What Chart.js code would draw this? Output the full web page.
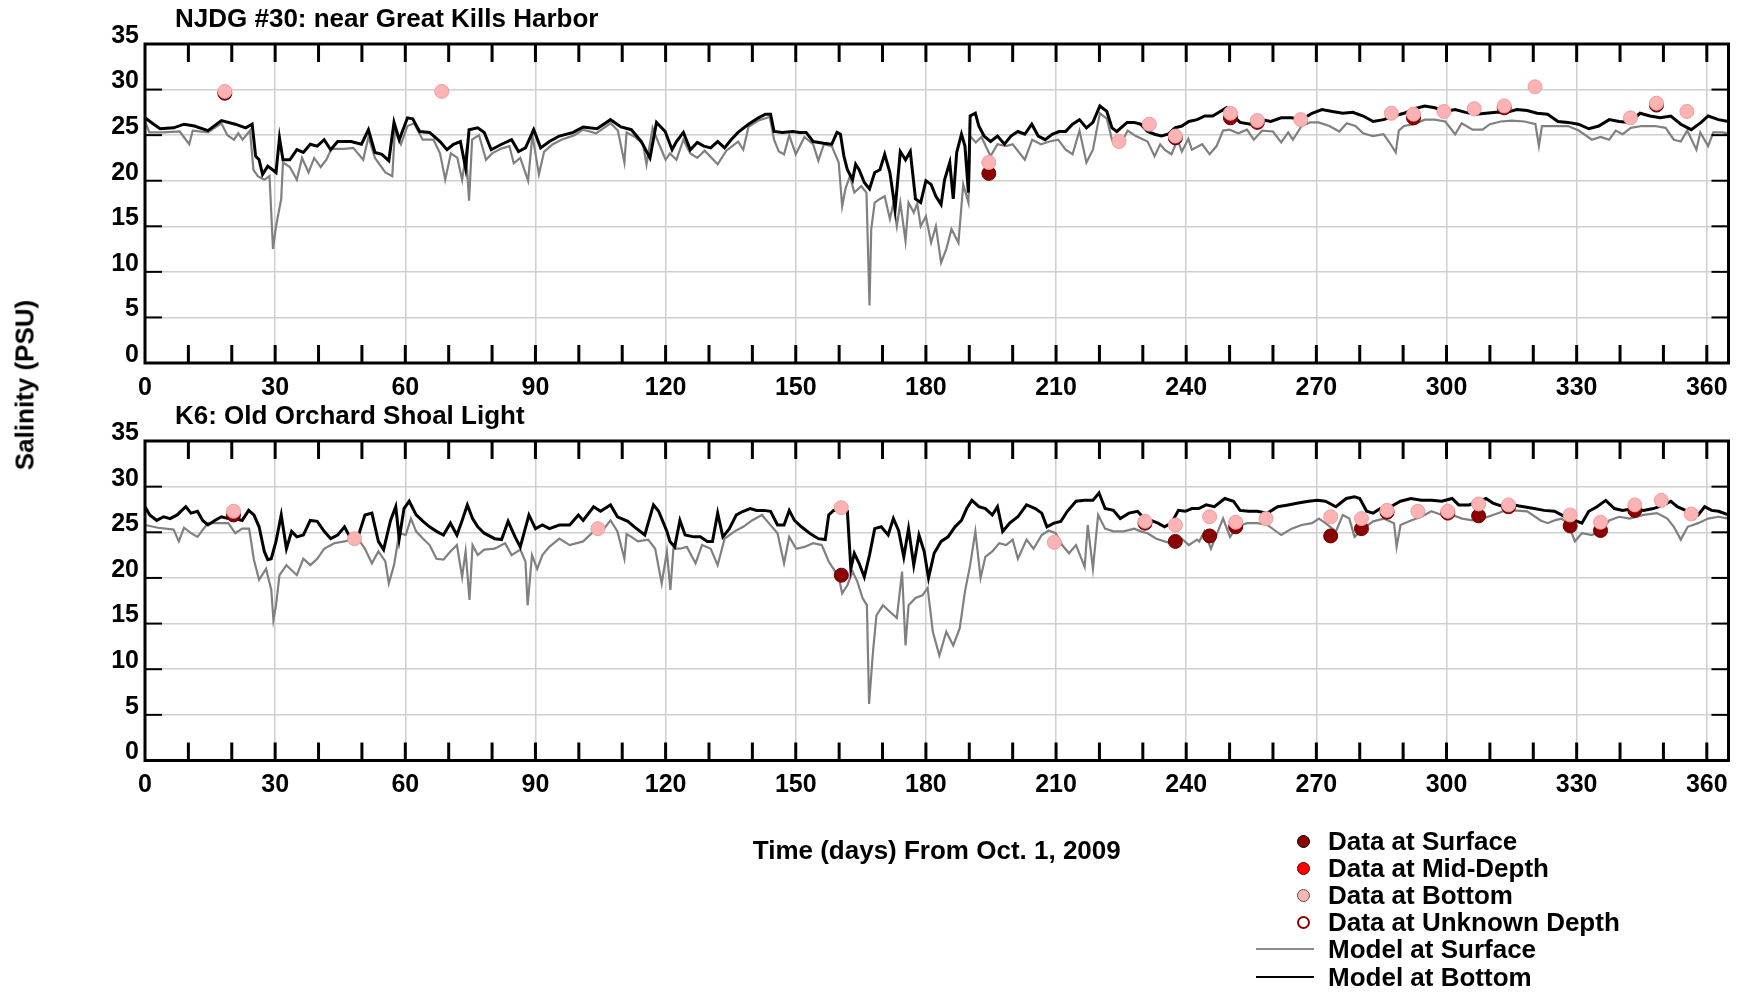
<!DOCTYPE html>
<html>
<head>
<meta charset="utf-8">
<title>Salinity: NJDG #30 and K6</title>
<script src="https://cdn.jsdelivr.net/npm/chart.js@4.4.1/dist/chart.umd.min.js"></script>
<style>
    body { margin: 0; background: #fff; font-family: "Liberation Sans", Arial, sans-serif; }
    #page { position: relative; width: 1743px; height: 992px; overflow: hidden; background: #fff; }
    .panel { position: absolute; left: 0; }
    #yTitle {
        position: absolute; left: 25px; top: 385px;
        transform: translate(-50%, -50%) rotate(-90deg);
        font-weight: bold; font-size: 26px; white-space: nowrap; color: #000;
    }
    #legend { position: absolute; left: 1256px; top: 828px; width: 420px; height: 164px; }
    .leg-row { position: absolute; left: 0; height: 27px; width: 420px; }
    .leg-text { position: absolute; left: 72px; top: 0; line-height: 27px; font-weight: bold; font-size: 26px; color: #000; white-space: nowrap; }
    .leg-dot { position: absolute; left: 41px; top: 7px; width: 13px; height: 13px; border-radius: 50%; box-sizing: border-box; }
    .leg-line { position: absolute; left: 0; top: 12px; width: 58px; height: 2px; }
</style>
</head>
<body>
<div id="page">
    <div class="panel" style="top:0"><canvas id="njChart" width="1743" height="400"></canvas></div>
    <div class="panel" style="top:400px"><canvas id="k6Chart" width="1743" height="592"></canvas></div>
    <div id="yTitle">Salinity (PSU)</div>
    <div id="legend"></div>
</div>

<script>
// ========================================
// DATA
// ========================================

const xTickLabels = [0, 30, 60, 90, 120, 150, 180, 210, 240, 270, 300, 330, 360];
const yTickLabels = [0, 5, 10, 15, 20, 25, 30, 35];

// NJDG #30: near Great Kills Harbor  -- [day, salinity]
const njModelBottom = [[0,26.9],[2,26.2],[3.5,25.7],[6.6,25.8],[9,26.2],[11.4,26.0],[14.5,25.5],[17.6,26.6],[20.8,26.2],[23.2,25.8],[24.7,26.2],[25.5,22.7],[26.3,22.3],[27.1,20.7],[28.3,21.6],[29.4,21.2],[30.2,20.9],[31,24.7],[31.8,22.3],[33.4,22.3],[35,23.4],[36.5,23.1],[38.1,24.0],[39.7,23.8],[41.3,24.5],[42.8,23.4],[44.4,24.3],[47.5,24.3],[49.9,24.0],[51.5,25.6],[53,23.1],[54.6,22.9],[56.2,22.2],[57.4,26.4],[58.6,24.5],[60.5,26.9],[61.7,26.8],[63.3,25.4],[65.6,25.3],[68,24.3],[69.6,23.4],[71.1,24.0],[72.7,24.3],[73.9,21.4],[74.7,25.6],[76.7,25.8],[78.2,25.3],[79.8,23.4],[82.2,24.0],[84.5,24.5],[86.1,23.2],[87.7,23.6],[89.6,25.6],[91.2,23.6],[93.2,24.3],[95.5,24.9],[98.7,25.3],[101,25.9],[104.2,25.7],[107.3,26.7],[109.7,25.9],[112.1,25.6],[114.4,24.3],[116.4,22.5],[117.9,26.4],[119.9,25.4],[121.5,23.4],[122.5,24.3],[124.1,25.3],[125.7,23.4],[127.3,24.2],[128.8,23.8],[130.4,23.6],[132,24.3],[133.6,23.6],[135.1,24.5],[136.7,25.3],[139.1,26.2],[141.4,26.9],[143,27.3],[144.2,27.3],[145,25.4],[146.9,25.3],[149.3,25.4],[150.9,25.3],[152.4,25.3],[154,24.3],[156.4,24.1],[158.3,24.0],[159.5,25.3],[160.3,25.1],[161.1,22.7],[161.9,21.2],[163.1,20.1],[163.8,21.8],[164.6,21.2],[165.8,19.8],[167,19.1],[168.2,20.9],[169.4,21.2],[170.5,22.9],[171.7,20.9],[172.9,16.9],[174.1,23.2],[175.3,22.3],[176.4,23.2],[177.6,18.0],[178.8,17.6],[180,20.0],[181.2,19.6],[182.3,18.3],[183.5,17.4],[184.3,20.1],[185.5,22.0],[186.3,18.0],[187.1,23.1],[188.2,25.1],[189,23.8],[189.8,18.7],[190.2,27.1],[191.4,27.4],[192.2,26.0],[193.4,24.9],[194.9,24.3],[196.5,24.9],[198.1,24.0],[199.6,24.9],[201.2,25.4],[202.8,25.1],[204.4,26.2],[205.9,24.9],[207.5,24.5],[209.1,25.1],[210.7,25.4],[212.2,25.4],[213.8,26.2],[215.4,26.7],[217,25.8],[218.5,26.4],[220.1,28.2],[221.7,27.6],[222.9,25.8],[224,25.4],[226.4,26.4],[228,26.4],[229.5,26.2],[231.1,25.4],[232.7,25.1],[234.3,24.9],[235.8,25.1],[237.4,25.8],[239,26.0],[240.6,26.5],[242.5,26.7],[244.3,27.1],[246.1,27.1],[249.3,28.0],[250.9,27.1],[252.4,26.4],[254.8,26.2],[257.2,26.7],[259.5,26.5],[261.9,26.9],[264.3,26.9],[266.6,26.7],[269,27.4],[271.3,27.8],[273.7,27.6],[276.1,27.4],[278.4,27.5],[280.8,27.1],[283.1,26.5],[285.5,26.7],[287.9,27.1],[290.2,27.4],[292.6,27.9],[295,28.2],[297.3,28.0],[299.7,27.6],[302,27.8],[304.4,27.5],[306.8,27.3],[309.1,27.4],[311.5,27.5],[313.9,27.5],[316.2,27.8],[318.6,27.7],[320.9,27.4],[323.3,27.3],[325.7,26.5],[328,26.4],[330.4,26.2],[332.8,25.7],[335.1,26.0],[337.5,26.7],[339.8,26.5],[342.2,26.4],[344.6,27.4],[346.9,27.1],[349.3,26.9],[351.7,27.1],[354,26.2],[356.4,25.6],[358.7,26.4],[360.3,27.1],[362.7,26.7],[365,26.5]];

const njModelSurface = [[0,26.5],[1,25.3],[4,25.3],[8,25.4],[10.2,24.0],[11,25.5],[14.5,25.3],[17.6,26.3],[19,25.0],[20.5,24.5],[21.5,25.2],[22.5,24.5],[24.2,25.5],[25,21.2],[26,20.5],[27.5,20.1],[28.7,20.5],[29.5,12.5],[30.2,15.0],[31.4,18.0],[31.8,22.0],[33.4,21.5],[35,20.1],[36.2,22.5],[37.7,20.9],[39,22.5],[40.5,21.5],[41.8,22.3],[43,23.5],[46,23.5],[48,23.6],[50.3,22.3],[51.5,24.8],[53,22.5],[55.4,20.9],[57,20.5],[57.6,25.5],[59,24.0],[60.5,26.0],[62,26.3],[64,24.5],[66.5,24.5],[68,23.0],[68.6,21.6],[69.2,20.1],[70.5,23.0],[72,22.5],[73.1,20.1],[74,23.0],[74.7,17.8],[75.4,24.5],[77,25.0],[78.6,22.3],[80,23.0],[82,23.5],[84,23.8],[85,21.9],[86.5,22.5],[88.3,20.0],[89.3,25.0],[90.8,20.7],[92,23.2],[94,24.0],[96,24.5],[99,25.0],[101,25.6],[104,25.2],[107.3,26.3],[109,25.5],[110.5,22.0],[111,25.3],[113,24.8],[114.8,24.0],[115.6,21.8],[117,25.8],[118.5,24.0],[120,22.3],[121,23.0],[122.5,22.3],[124.1,24.5],[125.7,23.0],[127.3,22.5],[129,23.3],[132,21.8],[134,23.3],[136.7,24.3],[137.9,23.4],[139.1,25.9],[141.4,26.6],[144,27.0],[145,24.5],[146.1,23.2],[147.3,22.9],[148.5,25.0],[150,22.9],[152,24.8],[154,24.0],[155.2,22.2],[156.5,24.0],[158.3,23.8],[159.9,22.0],[160.7,17.2],[161.5,19.2],[162.5,20.5],[163.5,18.7],[165.1,19.4],[166.3,18.7],[167,6.3],[167.4,14.7],[168.2,17.6],[169.4,18.0],[170.5,18.3],[171.7,15.8],[172.5,17.5],[173.3,15.0],[174.1,17.6],[175.3,13.4],[176,17.6],[177.2,16.5],[178,17.5],[178.8,15.0],[180,16.1],[181.2,13.2],[182.3,15.0],[183.5,11.0],[184.7,12.5],[185.9,14.7],[187.5,13.2],[188.6,19.6],[189.8,17.6],[190.2,24.9],[191.5,24.2],[192.8,24.8],[194.9,22.7],[196.5,24.0],[198.5,23.8],[200,24.0],[202.8,22.3],[204.5,24.5],[206.5,24.0],[208.5,24.3],[210.5,24.5],[212.2,23.4],[213.8,22.9],[215.4,25.5],[217,22.0],[218.5,23.4],[220.1,27.4],[221.7,26.8],[222.9,24.5],[225.2,24.3],[226.5,25.5],[228.4,24.9],[231.1,24.3],[232.7,22.7],[234,24.0],[235,23.4],[236.6,22.9],[238,24.5],[239,23.2],[240.5,24.6],[241.3,23.4],[243.7,24.0],[245.4,22.9],[247,23.8],[248.5,25.5],[250,25.6],[252,25.2],[254,25.6],[255.6,24.5],[257.5,25.5],[260,25.4],[261.9,24.2],[263.5,25.3],[264.6,24.5],[266.6,26.0],[268.5,26.4],[270.5,26.4],[273,26.0],[275.3,25.4],[277,26.3],[279,26.0],[280.8,25.2],[283,24.9],[285.5,25.1],[286.7,24.3],[288.3,23.1],[289,25.5],[290.2,26.0],[292.5,26.2],[295,26.7],[297.3,26.7],[299.7,26.5],[302,25.1],[303.5,26.3],[306,25.6],[308.3,25.6],[310,26.2],[312.5,26.5],[315,26.6],[318,26.5],[320.5,26.2],[321.3,23.8],[322,26.0],[325,26.0],[328,26.0],[330.5,25.5],[333.5,24.5],[335.5,24.8],[337.5,24.5],[339,25.5],[340.6,25.1],[342.5,25.8],[345,26.0],[348,26.0],[350.5,25.8],[352.4,24.5],[354,24.3],[355.5,25.5],[357.6,23.4],[358.5,25.3],[360.3,23.8],[361.5,25.3],[363.5,25.3],[365,25.2]];

const njDataBottom = [[18.4,29.8],[68.4,29.8],[194.5,22.0],[224.5,24.3],[231.5,26.2],[237.5,24.9],[250.2,27.4],[256.4,26.6],[266.4,26.7],[287.3,27.4],[292.4,27.3],[299.4,27.6],[306.4,27.9],[313.3,28.2],[320.4,30.3],[342.4,26.9],[348.4,28.5],[355.4,27.6]];
const njDataSurface = [[18.4,29.6],[194.5,20.8],[237.5,24.7],[250.2,26.9],[256.4,26.4],[292.4,26.9],[313.3,28.0],[348.4,28.3]];

// K6: Old Orchard Shoal Light  -- [day, salinity]
const k6ModelBottom = [[0,27.8],[1.1,26.9],[2.7,26.3],[4.3,26.7],[5.8,26.5],[7.4,26.9],[9.4,27.8],[10.6,27.1],[12.1,27.3],[13.3,26.3],[14.5,25.8],[16.1,26.3],[17.6,26.7],[19.2,26.5],[20.8,26.5],[22.4,26.3],[23.9,27.4],[25.1,26.9],[26.3,25.6],[27.5,22.9],[28.3,22.0],[29.1,22.1],[30.2,24.0],[31.4,26.9],[32.6,23.2],[33.8,25.1],[35,24.5],[36.5,24.7],[38.1,26.3],[39.7,26.2],[41.3,25.1],[42.8,24.3],[44.4,24.7],[46,25.6],[47.2,24.5],[49.1,24.5],[50.7,26.9],[52.3,27.1],[53.8,24.0],[55,23.1],[56.6,26.3],[57.8,27.8],[58.6,24.3],[59.7,27.6],[60.9,28.4],[62.5,26.9],[64.1,26.2],[65.6,25.6],[67.2,25.1],[68.8,24.7],[70.4,26.0],[71.9,24.7],[73.1,26.3],[74.3,28.0],[75.5,26.5],[76.7,25.6],[78.2,24.9],[80.6,24.3],[82.2,24.2],[83.7,26.2],[85.3,24.5],[86.5,23.4],[88.5,26.9],[90,25.4],[91.6,25.8],[93.2,25.4],[95.5,25.8],[97.9,25.8],[99.9,26.9],[101,26.3],[103.4,27.8],[105,27.3],[107.3,28.0],[108.9,26.7],[111.3,26.2],[112.8,25.6],[115.2,24.7],[117.2,28.0],[118.4,27.3],[120.3,25.1],[121,24.0],[122.1,23.4],[123.3,26.3],[124.5,24.7],[126.5,24.5],[128,24.5],[129.6,24.0],[130.8,24.0],[132,27.1],[133.2,24.5],[134.7,25.4],[136.3,26.9],[137.9,27.3],[139.5,27.6],[141,27.4],[142.6,27.4],[144.2,27.3],[145.8,25.8],[147.3,25.8],[148.5,27.4],[149.7,26.3],[151.3,25.6],[153.2,24.9],[155.2,24.3],[156.8,24.2],[157.6,26.9],[158.7,27.4],[160.3,27.4],[161.9,27.3],[162.7,21.0],[163.5,22.7],[164.6,21.6],[165.8,20.1],[167,22.5],[168.2,25.4],[169.7,25.6],[171.3,24.7],[172.5,26.5],[173.7,25.2],[174.9,22.3],[176,25.4],[177.2,21.4],[178.4,24.7],[179.6,22.9],[180.6,20.0],[181.9,22.7],[183.5,24.0],[185.1,24.5],[186.7,25.6],[188.2,26.3],[189.4,27.6],[190.6,28.5],[192.2,27.8],[193.7,27.6],[195.3,26.9],[196.5,27.8],[197.7,25.1],[199.3,26.0],[201.2,26.7],[203.2,28.0],[205.2,27.6],[206.7,27.1],[207.9,25.6],[209.5,26.0],[211.1,26.2],[212.6,27.3],[214.6,28.4],[216.6,28.5],[218.5,28.5],[219.9,29.3],[221.3,27.6],[223.2,27.4],[224.8,26.5],[226.8,27.1],[228.8,27.3],[230.3,26.5],[231.9,26.3],[233.5,26.0],[235,25.6],[236.6,26.0],[238.2,27.4],[239.8,27.3],[241.3,27.6],[242.9,27.6],[244.6,28.0],[246.5,27.8],[248.9,28.7],[250.9,28.4],[252.4,27.4],[254.4,27.3],[256.4,27.3],[258.7,27.1],[261.1,27.8],[263.5,28.0],[265.8,28.2],[268.2,28.4],[270.2,28.5],[272.1,28.4],[274.5,27.8],[276.9,28.7],[278.8,28.9],[280,28.7],[281.6,27.3],[283.1,27.1],[284.7,27.6],[287.1,27.8],[289.4,28.4],[291.8,28.7],[294.2,28.5],[296.5,28.5],[298.9,28.4],[301.3,28.7],[302.8,28.0],[305.2,28.0],[307.6,28.4],[309.1,28.7],[310.7,28.2],[313.1,27.8],[315.4,28.0],[317.8,27.8],[320.2,27.6],[322.5,27.4],[324.9,27.3],[326.5,26.9],[328,26.5],[329.6,26.3],[331.2,26.0],[332.8,27.3],[334.7,27.8],[336.7,28.5],[338.7,27.6],[340.6,27.4],[343,27.6],[345.4,27.4],[347.7,27.6],[350.1,28.0],[351.7,28.4],[353.2,27.8],[355.6,27.3],[358,26.9],[359.5,27.8],[361.1,27.4],[362.7,27.3],[365,26.9]];

const k6ModelSurface = [[0,25.8],[3,25.5],[6.6,25.3],[7.8,24.0],[9,25.5],[10.6,24.9],[12.1,24.5],[14.5,26.0],[17,26.0],[19.2,26.0],[20.8,24.9],[22.4,25.4],[24,25.4],[25.1,22.0],[26.3,19.8],[27.9,21.0],[29.1,18.7],[29.6,15.4],[30.2,17.0],[31,20.3],[32.6,21.4],[35,20.3],[36.5,22.1],[38.1,21.4],[39.7,22.1],[41.3,23.2],[43.6,23.8],[46,24.0],[49.1,24.3],[50.7,23.2],[52.3,21.6],[53.8,22.9],[55.4,21.8],[56.2,19.4],[57.4,21.4],[58.6,24.9],[60.1,24.7],[61.3,26.5],[62.5,25.1],[64.1,24.3],[65.6,23.6],[67.2,22.1],[68.8,22.0],[70.4,22.9],[71.9,23.6],[73.1,20.1],[73.9,22.9],[74.8,17.6],[75.5,23.6],[76.7,22.5],[78.2,23.1],[80.6,23.2],[83,23.8],[84.5,22.5],[86.5,23.1],[87.7,21.8],[88.2,17.0],[89.2,22.5],[90.4,21.0],[91.6,22.5],[93.2,23.4],[95.5,24.3],[97.9,23.6],[101,24.0],[103.4,25.1],[105.8,25.4],[107.3,26.3],[108.9,25.1],[110.5,22.1],[111,24.8],[112.1,24.5],[113.6,24.0],[116,24.2],[117.6,23.2],[119.1,19.4],[120.3,22.9],[121.1,18.7],[121.8,23.2],[123.3,23.2],[124.9,23.4],[126.9,21.6],[128.4,23.6],[130.4,23.2],[132,21.4],[133.6,24.3],[135.9,25.1],[137.9,25.6],[139.9,26.3],[142.2,26.9],[143.8,26.0],[145.8,24.9],[147.3,21.6],[148.5,24.5],[150.1,23.2],[152,23.4],[154,23.8],[156,23.6],[157.6,21.8],[158.7,21.0],[159.9,20.1],[160.7,18.3],[161.9,19.2],[163.1,20.7],[164.2,19.6],[165.4,17.8],[166.4,17.0],[166.9,6.2],[167.8,11.9],[168.6,15.9],[170.1,17.0],[171.7,16.3],[173.3,15.6],[174.5,20.7],[175.3,12.6],[176,17.0],[177.6,17.8],[179.2,18.1],[180.4,18.9],[181.6,14.1],[183.1,11.5],[184.7,14.1],[186.3,12.6],[187.8,14.5],[189,18.5],[190.2,21.4],[191.4,25.1],[192.6,20.0],[193.7,22.3],[195.3,22.9],[196.9,23.8],[198.5,23.6],[200,24.2],[201.2,22.1],[203.2,24.2],[204.8,23.2],[206.7,24.7],[208.3,25.2],[209.9,24.9],[211.4,23.6],[213,22.7],[214.6,23.6],[216.6,21.2],[217.3,25.8],[218.5,21.0],[219.7,26.9],[221.3,25.4],[223.2,25.1],[225.6,25.1],[228,25.4],[229.5,25.1],[231.1,24.9],[233.1,24.3],[235,24.0],[236.6,23.8],[239,24.3],[240.6,23.6],[242.5,24.2],[243,24.0],[244.2,25.1],[245.7,23.2],[247.3,25.1],[248.5,26.5],[250.1,24.5],[251.7,25.6],[254,26.0],[256.4,26.0],[258.7,25.8],[261.9,24.7],[264.3,25.4],[266.6,25.8],[269,26.0],[270.6,26.5],[272.1,26.0],[274.5,25.1],[276.1,26.9],[277.6,26.5],[278.8,24.5],[280.8,25.4],[283.1,26.2],[285.5,26.5],[287.9,26.0],[288.5,23.4],[289.4,25.8],[291.8,26.3],[294.2,26.7],[296.5,27.3],[298.9,26.9],[301.3,26.9],[303.6,26.5],[306,26.3],[308.3,26.5],[310.7,26.9],[313.1,27.3],[315.4,27.4],[318.6,27.3],[321.7,26.3],[323.3,26.0],[324.9,26.3],[326.5,26.5],[328,26.0],[329.6,24.0],[331.2,24.9],[333.5,24.7],[335.9,25.2],[337.5,26.3],[339.8,26.7],[342.2,26.5],[345.4,26.9],[348.5,27.1],[350.9,26.5],[352.4,25.6],[354,24.2],[355.6,25.6],[358,26.0],[360.3,26.5],[362.7,26.7],[365,26.5]];

const k6DataBottom = [[20.4,27.3],[48.3,24.3],[104.4,25.4],[160.5,27.7],[209.6,23.9],[230.5,26.2],[237.5,25.8],[245.4,26.7],[251.4,26.1],[258.4,26.5],[273.3,26.7],[280.4,26.5],[286.3,27.4],[293.4,27.3],[300.3,27.3],[307.4,28.1],[314.3,28.0],[328.5,26.9],[335.5,26.1],[343.4,28.0],[349.5,28.5],[356.4,27.0]];
const k6DataSurface = [[20.4,26.9],[160.5,20.3],[230.5,26.0],[237.5,24.0],[245.4,24.6],[251.4,25.6],[273.3,24.6],[280.4,25.4],[286.3,27.2],[300.3,27.1],[307.4,26.8],[314.3,27.8],[328.5,25.7],[335.5,25.2],[343.4,27.4]];

const legendLabels = ['Data at Surface', 'Data at Mid-Depth', 'Data at Bottom', 'Data at Unknown Depth', 'Model at Surface', 'Model at Bottom'];

// ========================================
// STYLE
// ========================================

const FONT = '"Liberation Sans", Arial, sans-serif';
const COLORS = {
    surfaceDot: '#8b0000',
    midDot: '#ff0000',
    bottomDot: '#fbb3b3',
    modelSurface: '#808080',
    modelBottom: '#000000',
    grid: '#cfcfcf'
};

// frame, inward tick marks and panel title
const framePlugin = {
    id: 'frame',
    afterDraw(chart, args, opts) {
        const { ctx, chartArea: a, scales: { x, y } } = chart;
        ctx.save();
        ctx.strokeStyle = '#000';

        function seg(x1, y1, x2, y2) {
            ctx.beginPath();
            ctx.moveTo(x1, y1);
            ctx.lineTo(x2, y2);
            ctx.stroke();
        }

        ctx.lineWidth = 3;
        for (let d = 10; d <= 360; d += 10) {
            const px = x.getPixelForValue(d);
            seg(px, a.top, px, a.top + 18);
            seg(px, a.bottom, px, a.bottom - 18);
        }

        ctx.lineWidth = 2;
        yTickLabels.forEach(v => {
            const py = y.getPixelForValue(v);
            seg(a.left, py, a.left + 17, py);
            seg(a.right, py, a.right - 17, py);
        });

        ctx.lineWidth = 3;
        ctx.strokeRect(a.left, a.top, a.right - a.left, a.bottom - a.top);

        ctx.fillStyle = '#000';
        ctx.font = 'bold 26px ' + FONT;
        ctx.textBaseline = 'middle';
        ctx.textAlign = 'left';
        ctx.fillText(opts.title, a.left + 30, a.top - 24);
        ctx.restore();
    }
};

function toPoints(pairs) {
    return pairs.map(p => ({ x: p[0], y: p[1] }));
}

function buildChart(canvasId, panel) {
    const tickFont = { family: FONT, size: 25, weight: 'bold' };

    return new Chart(document.getElementById(canvasId), {
        type: 'line',
        data: {
            datasets: [
                {
                    label: 'Data at Bottom',
                    data: toPoints(panel.dataBottom),
                    showLine: false,
                    pointRadius: 7,
                    backgroundColor: COLORS.bottomDot,
                    borderColor: '#f19d9d',
                    pointBorderWidth: 1,
                    order: 0
                },
                {
                    label: 'Data at Surface',
                    data: toPoints(panel.dataSurface),
                    showLine: false,
                    pointRadius: 7,
                    backgroundColor: COLORS.surfaceDot,
                    borderColor: '#6a0000',
                    pointBorderWidth: 1,
                    order: 1
                },
                {
                    label: 'Model at Bottom',
                    data: toPoints(panel.modelBottom),
                    borderColor: COLORS.modelBottom,
                    borderWidth: 3,
                    pointRadius: 0,
                    tension: 0,
                    order: 2
                },
                {
                    label: 'Model at Surface',
                    data: toPoints(panel.modelSurface),
                    borderColor: COLORS.modelSurface,
                    borderWidth: 2.2,
                    pointRadius: 0,
                    tension: 0,
                    order: 3
                }
            ]
        },
        options: {
            responsive: false,
            animation: false,
            devicePixelRatio: 1,
            layout: { padding: { left: 0, right: 14.5, top: panel.top, bottom: 0 } },
            plugins: {
                legend: { display: false },
                tooltip: { enabled: false },
                frame: { title: panel.title }
            },
            scales: {
                x: {
                    type: 'linear',
                    min: 0,
                    max: 365,
                    afterBuildTicks: scale => { scale.ticks = xTickLabels.map(v => ({ value: v })); },
                    afterFit: scale => { scale.height = panel.xAxisHeight; },
                    ticks: { font: tickFont, color: '#000', padding: 10, maxRotation: 0, autoSkip: false },
                    grid: { color: COLORS.grid, lineWidth: 1.5, drawTicks: false },
                    border: { display: false },
                    title: panel.xTitle ? {
                        display: true,
                        text: panel.xTitle,
                        color: '#000',
                        font: { family: FONT, size: 26, weight: 'bold' },
                        padding: { top: 0, bottom: 125 }
                    } : { display: false }
                },
                y: {
                    min: 0,
                    max: 35,
                    afterBuildTicks: scale => { scale.ticks = yTickLabels.map(v => ({ value: v })); },
                    afterFit: scale => { scale.width = 145; },
                    ticks: { font: tickFont, color: '#000', padding: 6, labelOffset: -8 },
                    grid: { color: COLORS.grid, lineWidth: 1.5, drawTicks: false },
                    border: { display: false }
                }
            }
        },
        plugins: [framePlugin]
    });
}

// ========================================
// LEGEND
// ========================================

function buildLegend() {
    const box = document.getElementById('legend');
    const markers = [
        { dot: true, fill: COLORS.surfaceDot, border: '1px solid #000' },
        { dot: true, fill: COLORS.midDot, border: '1px solid #5a0000' },
        { dot: true, fill: COLORS.bottomDot, border: '1px solid #555' },
        { dot: true, fill: '#fff', border: '2px solid ' + COLORS.surfaceDot },
        { dot: false, fill: '#8c8c8c' },
        { dot: false, fill: '#000' }
    ];

    legendLabels.forEach((label, i) => {
        const row = document.createElement('div');
        row.className = 'leg-row';
        row.style.top = (i * 27.1) + 'px';

        const mark = document.createElement('span');
        const m = markers[i];
        mark.className = m.dot ? 'leg-dot' : 'leg-line';
        mark.style.background = m.fill;
        if (m.border) mark.style.border = m.border;

        const text = document.createElement('span');
        text.className = 'leg-text';
        text.textContent = label;

        row.appendChild(mark);
        row.appendChild(text);
        box.appendChild(row);
    });
}

buildChart('njChart', {
    title: 'NJDG #30: near Great Kills Harbor',
    top: 44,
    xAxisHeight: 37,
    modelBottom: njModelBottom,
    modelSurface: njModelSurface,
    dataBottom: njDataBottom,
    dataSurface: njDataSurface
});

buildChart('k6Chart', {
    title: 'K6: Old Orchard Shoal Light',
    top: 41,
    xAxisHeight: 231.5,
    xTitle: 'Time (days) From Oct. 1, 2009',
    modelBottom: k6ModelBottom,
    modelSurface: k6ModelSurface,
    dataBottom: k6DataBottom,
    dataSurface: k6DataSurface
});

buildLegend();
</script>
</body>
</html>
